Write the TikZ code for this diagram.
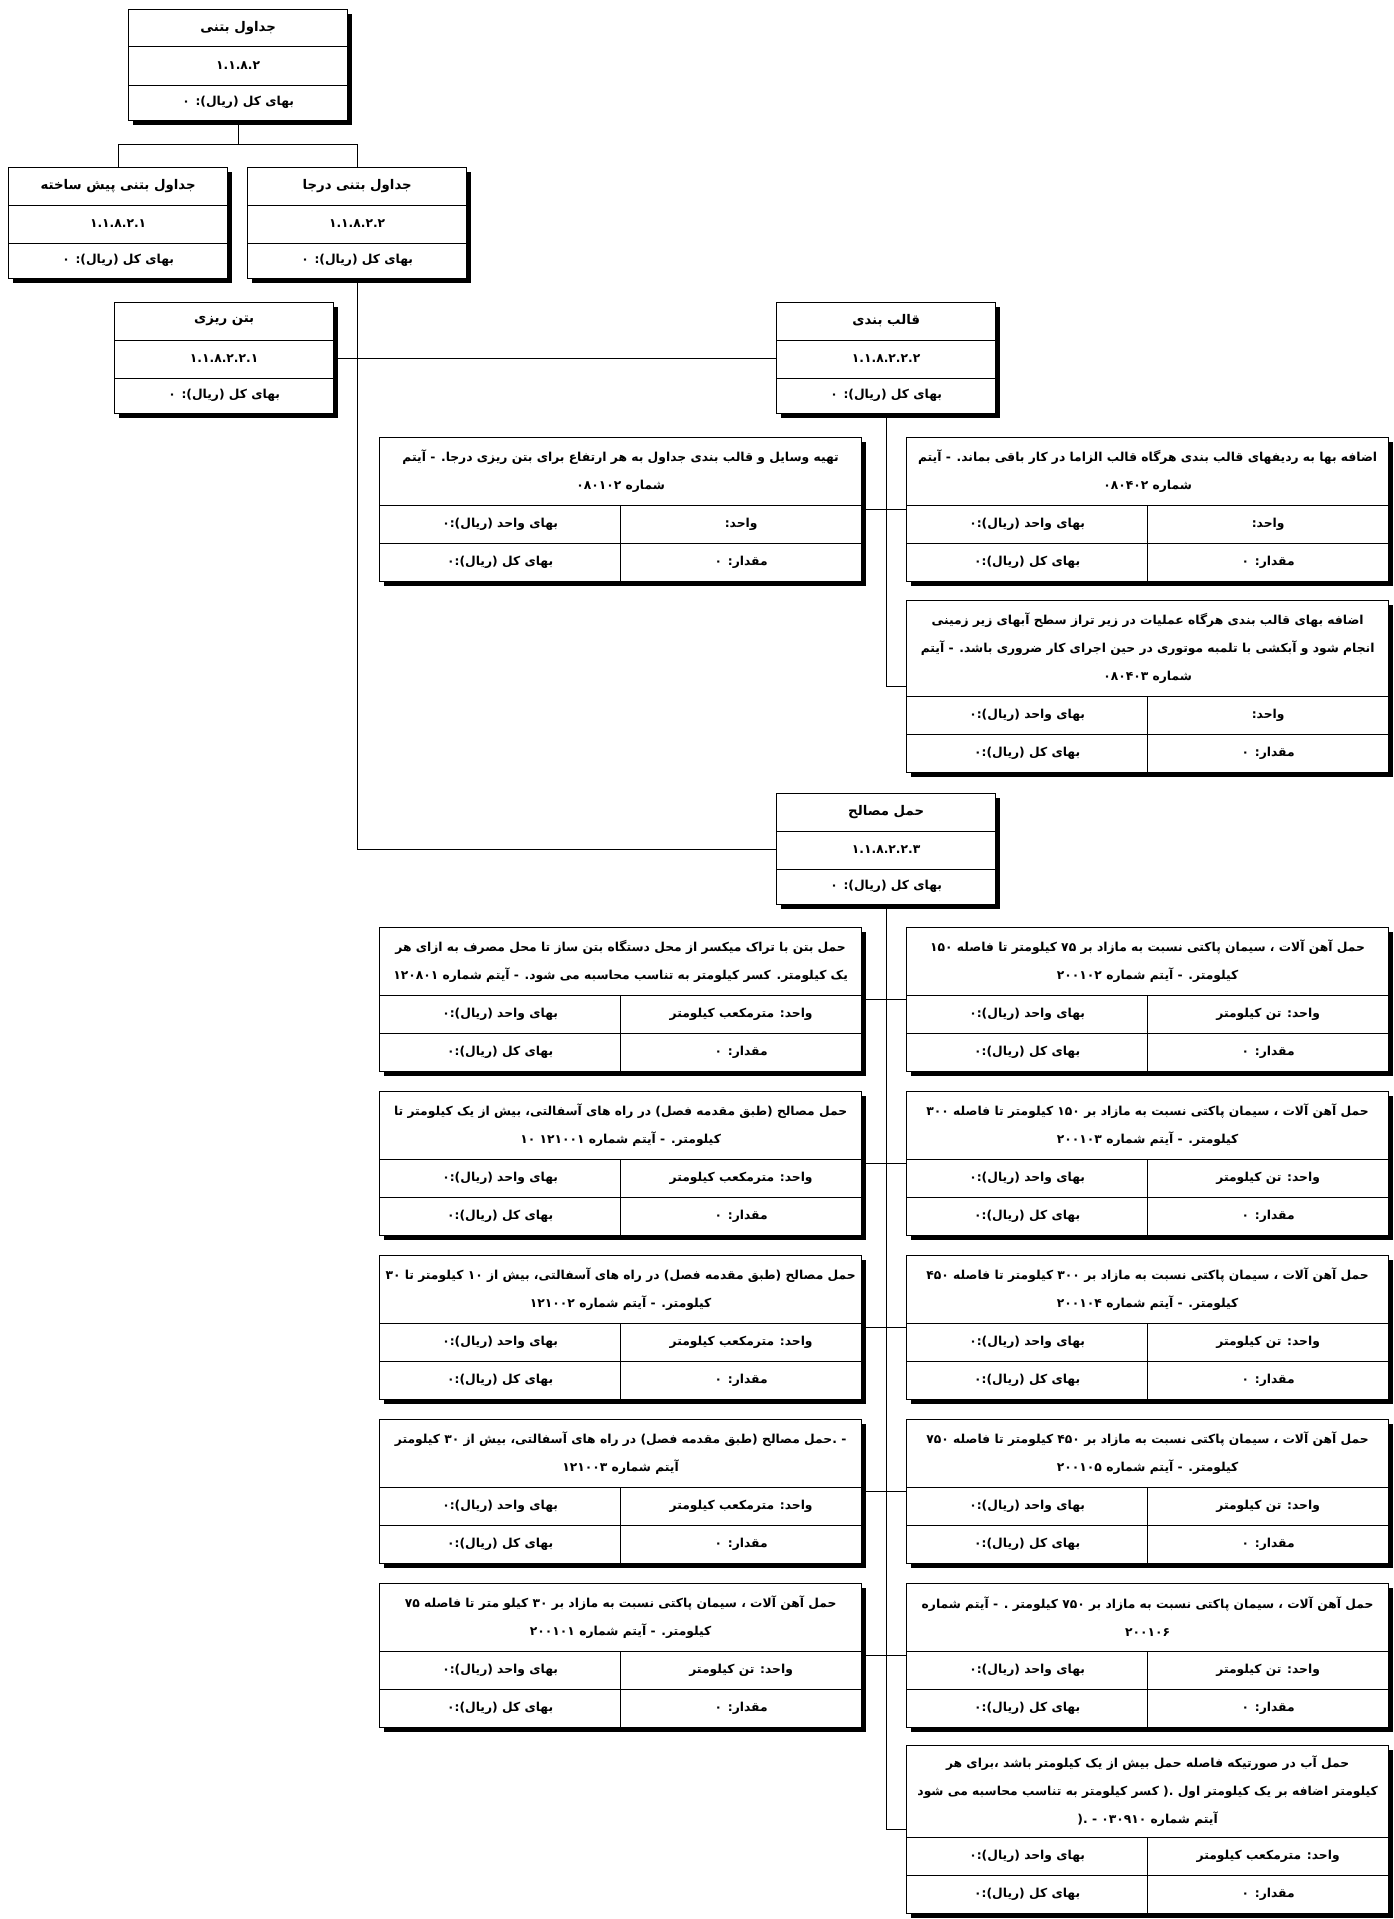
\documentclass[tikz,border=0pt]{standalone}
\usepackage{fontspec}
\usepackage{tikz}
\usetikzlibrary{calc, shadows}
\newfontfamily\arfont[Script=Arabic]{DejaVu Sans}
\TeXXeTstate=1

\tikzset{
  orgbox/.style={draw, line width=1.3pt, fill=white, anchor=north west, inner sep=0pt,
    minimum width=219pt, minimum height=111pt,
    general shadow={fill=black, shadow xshift=4pt, shadow yshift=-4pt}},
  itembox/.style={orgbox, minimum width=482pt},
  rowline/.style={line width=1pt},
  link/.style={line width=1pt},
  titletext/.style={font=\arfont\bfseries\fontsize{13.3}{15}\selectfont, inner sep=0pt},
  boxtext/.style={font=\arfont\bfseries\fontsize{12.3}{14}\selectfont, inner sep=0pt},
  itemtext/.style={font=\arfont\bfseries\fontsize{12.3}{28}\selectfont, inner sep=0pt, align=center}
}

% small box: name, x, y, title, code
\newcommand{\orgbox}[5]{%
  \node[orgbox] (#1) at (#2,{#3}) {};
  \draw[rowline] ($(#1.north west)+(0,38)$) -- ($(#1.north east)+(0,38)$);
  \draw[rowline] ($(#1.north west)+(0,76)$) -- ($(#1.north east)+(0,76)$);
  \node[titletext] (#1t) at ($(#1.north)+(0,19)$) {#4};
  \node[boxtext] (#1c) at ($(#1.north)+(0,57)$) {#5};
  \node[boxtext] (#1v) at ($(#1.north)+(0,93.5)$) {\beginR بهای کل (ریال): ۰\endR};
}

% item box: name, x, y, title height, title lines, unit
\newcommand{\itembox}[6]{%
  \node[itembox, minimum height={#4+76}] (#1) at (#2,{#3}) {};
  \draw[rowline] ($(#1.north west)+(0,#4)$) -- ($(#1.north east)+(0,#4)$);
  \draw[rowline] ($(#1.north west)+(0,#4+38)$) -- ($(#1.north east)+(0,#4+38)$);
  \draw[rowline] ($(#1.north)+(0,#4)$) -- (#1.south);
  \node[itemtext] (#1t) at ($(#1.north)+(0,#4/2)$) {#5};
  \node[itemtext] (#1u) at ($(#1.north)+(120.5,#4+19)$) {#6};
  \node[itemtext] (#1p) at ($(#1.north)+(-120.5,#4+19)$) {\beginR بهای واحد (ریال):۰\endR};
  \node[itemtext] (#1q) at ($(#1.north)+(120.5,#4+57)$) {\beginR مقدار: ۰\endR};
  \node[itemtext] (#1v) at ($(#1.north)+(-120.5,#4+57)$) {\beginR بهای کل (ریال):۰\endR};
}

\begin{document}
\begin{tikzpicture}[x=1pt, y=-1pt]
\path[fill=white] (0,0) rectangle (1394,1919);

% Concrete gutters
\orgbox{top}{128}{9}{\beginR جداول بتنی\endR}{۱.۱.۸.۲}
\orgbox{precast}{8}{167}{\beginR جداول بتنی پیش ساخته\endR}{۱.۱.۸.۲.۱}
\orgbox{insitu}{247}{167}{\beginR جداول بتنی درجا\endR}{۱.۱.۸.۲.۲}
\draw[link] (top.south) -- ++(0,23) -| (precast.north);
\draw[link] (top.south) -- ++(0,23) -| (insitu.north);

% In-situ gutters
\orgbox{pour}{114}{302}{\beginR بتن ریزی\endR}{۱.۱.۸.۲.۲.۱}
\orgbox{formwork}{776}{302}{\beginR قالب بندی\endR}{۱.۱.۸.۲.۲.۲}
\orgbox{haul}{776}{793}{\beginR حمل مصالح\endR}{۱.۱.۸.۲.۲.۳}
\draw[link] (pour.east) -- (formwork.west);
\draw[link] (insitu.south) |- (haul.west);

% Formwork items
\itembox{fl1}{379}{437}{68}{\beginR تهیه وسایل و قالب بندی جداول به هر ارتفاع برای بتن ریزی درجا. - آیتم\endR\\\beginR شماره ۰۸۰۱۰۲\endR}{\beginR واحد:\endR}
\itembox{fr1}{906}{437}{68}{\beginR اضافه بها به ردیفهای قالب بندی هرگاه قالب الزاما در کار باقی بماند. - آیتم\endR\\\beginR شماره ۰۸۰۴۰۲\endR}{\beginR واحد:\endR}
\itembox{fr2}{906}{600}{96}{\beginR اضافه بهای قالب بندی هرگاه عملیات در زیر تراز سطح آبهای زیر زمینی\endR\\\beginR انجام شود و آبکشی با تلمبه موتوری در حین اجرای کار ضروری باشد. - آیتم\endR\\\beginR شماره ۰۸۰۴۰۳\endR}{\beginR واحد:\endR}
\draw[link] (formwork.south) |- (fr2.west);
\draw[link] (fl1.east) -- (fr1.west);

% Haulage items
\itembox{hl1}{379}{927}{68}{\beginR حمل بتن با تراک میکسر از محل دستگاه بتن ساز تا محل مصرف به ازای هر\endR\\\beginR یک کیلومتر. کسر کیلومتر به تناسب محاسبه می شود. - آیتم شماره ۱۲۰۸۰۱\endR}{\beginR واحد: مترمکعب کیلومتر\endR}
\itembox{hl2}{379}{1091}{68}{\beginR حمل مصالح (طبق مقدمه فصل) در راه های آسفالتی، بیش از یک کیلومتر تا\endR\\\beginR کیلومتر. - آیتم شماره ۱۲۱۰۰۱ ۱۰\endR}{\beginR واحد: مترمکعب کیلومتر\endR}
\itembox{hl3}{379}{1255}{68}{\beginR حمل مصالح (طبق مقدمه فصل) در راه های آسفالتی، بیش از ۱۰ کیلومتر تا ۳۰\endR\\\beginR کیلومتر. - آیتم شماره ۱۲۱۰۰۲\endR}{\beginR واحد: مترمکعب کیلومتر\endR}
\itembox{hl4}{379}{1419}{68}{\beginR - .حمل مصالح (طبق مقدمه فصل) در راه های آسفالتی، بیش از ۳۰ کیلومتر\endR\\\beginR آیتم شماره ۱۲۱۰۰۳\endR}{\beginR واحد: مترمکعب کیلومتر\endR}
\itembox{hl5}{379}{1583}{68}{\beginR حمل آهن آلات ، سیمان پاکتی نسبت به مازاد بر ۳۰ کیلو متر تا فاصله ۷۵\endR\\\beginR کیلومتر. - آیتم شماره ۲۰۰۱۰۱\endR}{\beginR واحد: تن کیلومتر\endR}
\foreach \k/\lo/\hi/\itm in {1/۷۵/۱۵۰/۲۰۰۱۰۲, 2/۱۵۰/۳۰۰/۲۰۰۱۰۳, 3/۳۰۰/۴۵۰/۲۰۰۱۰۴, 4/۴۵۰/۷۵۰/۲۰۰۱۰۵} {
  \itembox{hr\k}{906}{927+164*(\k-1)}{68}{\beginR حمل آهن آلات ، سیمان پاکتی نسبت به مازاد بر \lo\ کیلومتر تا فاصله \hi\endR\\\beginR کیلومتر. - آیتم شماره \itm\endR}{\beginR واحد: تن کیلومتر\endR}
}
\itembox{hr5}{906}{1583}{68}{\beginR حمل آهن آلات ، سیمان پاکتی نسبت به مازاد بر ۷۵۰ کیلومتر . - آیتم شماره\endR\\\beginR ۲۰۰۱۰۶\endR}{\beginR واحد: تن کیلومتر\endR}
\itembox{hr6}{906}{1745}{92}{\beginR حمل آب در صورتیکه فاصله حمل بیش از یک کیلومتر باشد ،برای هر\endR\\\beginR کیلومتر اضافه بر یک کیلومتر اول .( کسر کیلومتر به تناسب محاسبه می شود\endR\\\beginR آیتم شماره ۰۳۰۹۱۰ - .(\endR}{\beginR واحد: مترمکعب کیلومتر\endR}
\draw[link] (haul.south) |- (hr6.west);
\foreach \k in {1,...,5} {
  \draw[link] (hl\k.east) -- (hr\k.west);
}
\end{tikzpicture}
\end{document}
